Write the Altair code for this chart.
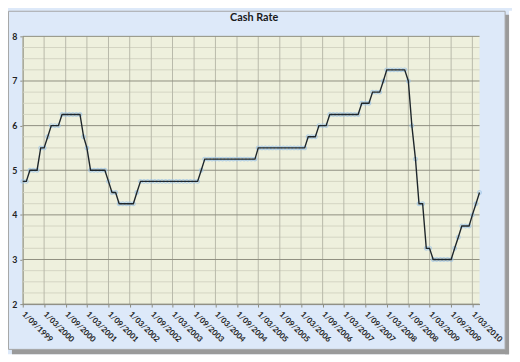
import altair as alt
import pandas as pd

# Monthly cash rate (%), Sep 1999 .. May 2010
rates = [
    4.75, 4.75, 5.00, 5.00,                                                      # 1999 Sep-Dec
    5.00, 5.50, 5.50, 5.75, 6.00, 6.00, 6.00, 6.25, 6.25, 6.25, 6.25, 6.25,      # 2000
    6.25, 5.75, 5.50, 5.00, 5.00, 5.00, 5.00, 5.00, 4.75, 4.50, 4.50, 4.25,      # 2001
    4.25, 4.25, 4.25, 4.25, 4.50, 4.75, 4.75, 4.75, 4.75, 4.75, 4.75, 4.75,      # 2002
    4.75, 4.75, 4.75, 4.75, 4.75, 4.75, 4.75, 4.75, 4.75, 4.75, 5.00, 5.25,      # 2003
    5.25, 5.25, 5.25, 5.25, 5.25, 5.25, 5.25, 5.25, 5.25, 5.25, 5.25, 5.25,      # 2004
    5.25, 5.25, 5.50, 5.50, 5.50, 5.50, 5.50, 5.50, 5.50, 5.50, 5.50, 5.50,      # 2005
    5.50, 5.50, 5.50, 5.50, 5.75, 5.75, 5.75, 6.00, 6.00, 6.00, 6.25, 6.25,      # 2006
    6.25, 6.25, 6.25, 6.25, 6.25, 6.25, 6.25, 6.50, 6.50, 6.50, 6.75, 6.75,      # 2007
    6.75, 7.00, 7.25, 7.25, 7.25, 7.25, 7.25, 7.25, 7.00, 6.00, 5.25, 4.25,      # 2008
    4.25, 3.25, 3.25, 3.00, 3.00, 3.00, 3.00, 3.00, 3.00, 3.25, 3.50, 3.75,      # 2009
    3.75, 3.75, 4.00, 4.25, 4.50,                                                # 2010 Jan-May
]
months = [d.strftime("%Y-%m-%d") for d in pd.date_range("1999-09-01", periods=len(rates), freq="MS")]

# Category axis ticks (every six months)
tick_dates = [
    "1999-09-01", "2000-03-01", "2000-09-01", "2001-03-01", "2001-09-01", "2002-03-01",
    "2002-09-01", "2003-03-01", "2003-09-01", "2004-03-01", "2004-09-01", "2005-03-01",
    "2005-09-01", "2006-03-01", "2006-09-01", "2007-03-01", "2007-09-01", "2008-03-01",
    "2008-09-01", "2009-03-01", "2009-09-01", "2010-03-01",
]
major_y = [2, 3, 4, 5, 6, 7, 8]
minor_y = [2.25, 2.5, 2.75, 3.25, 3.5, 3.75, 4.25, 4.5, 4.75, 5.25, 5.5, 5.75,
           6.25, 6.5, 6.75, 7.25, 7.5, 7.75]
title_text = "Cash Rate"

df = pd.DataFrame({"month": months, "rate": rates})
ticks_df = pd.DataFrame({"month": tick_dates})
major_df = pd.DataFrame({"y": major_y})
minor_df = pd.DataFrame({"y": minor_y})
one = pd.DataFrame({"a": [0]})

LEFT = 15            # chart-area padding left of the plot (page x = 8 + LEFT)
W, H = 464, 272
FONT = "Lato"

xscale = alt.Scale(type="utc", nice=False)
yscale = alt.Scale(domain=[2, 8], nice=False)

tick_values = [alt.DateTime(year=int(t[:4]), month=int(t[5:7]), date=1, utc=True) for t in tick_dates]

xaxis = alt.Axis(
    values=tick_values, labelExpr="utcFormat(datum.value, '1/%m/%Y')",
    labelAngle=45, labelAlign="left", labelBaseline="middle", labelPadding=6,
    labelFont=FONT, labelFontSize=8, labelColor="#222222", labelFontWeight="bold",
    grid=False, domain=True, domainColor="#8c8c80", ticks=True, tickColor="#8c8c80",
    tickSize=3, title=None, labelOverlap=False,
)
yaxis = alt.Axis(
    values=major_y, labelFont=FONT, labelFontSize=9, labelColor="#222222",
    labelFontWeight="bold", labelPadding=3, grid=False, domain=True,
    domainColor="#8c8c80", ticks=True, tickColor="#8c8c80", tickSize=3, title=None,
)

# decorative chart-area frame (right/bottom shadow and outline)
R = 513 - 8 - LEFT   # frame right edge in plot coordinates
B = 352 - 34         # frame bottom edge in plot coordinates
white_r = alt.Chart(one).mark_rect(color="white").encode(
    x=alt.value(R + 4), x2=alt.value(R + 20), y=alt.value(-26), y2=alt.value(B + 20))
white_b = alt.Chart(one).mark_rect(color="white").encode(
    x=alt.value(-LEFT), x2=alt.value(R + 20), y=alt.value(B + 5), y2=alt.value(B + 20))
shadow_r = alt.Chart(one).mark_rect(color="#9a9a9a").encode(
    x=alt.value(R), x2=alt.value(R + 4), y=alt.value(-22), y2=alt.value(B + 5))
shadow_b = alt.Chart(one).mark_rect(color="#9a9a9a").encode(
    x=alt.value(-LEFT + 4), x2=alt.value(R + 4), y=alt.value(B), y2=alt.value(B + 5))
outline = alt.Chart(one).mark_rect(fillOpacity=0, stroke="#a6a6a6", strokeWidth=1).encode(
    x=alt.value(-LEFT + 0.5), x2=alt.value(R), y=alt.value(-25.5), y2=alt.value(B))

title = alt.Chart(one).mark_text(
    text=title_text, font=FONT, fontSize=11, fontWeight="bold", color="#1a1a1a",
    align="center", baseline="middle").encode(
    x=alt.value(W / 2 + 3), y=alt.value(-19))

minor = alt.Chart(minor_df).mark_rule(color="#d3d4c2", strokeWidth=1).encode(
    y=alt.Y("y:Q", scale=yscale, axis=yaxis))
vert = alt.Chart(ticks_df).mark_rule(color="#b8b9aa", strokeWidth=1).encode(
    x=alt.X("month:T", scale=xscale, axis=xaxis))
major = alt.Chart(major_df).mark_rule(color="#8e8e80", strokeWidth=1).encode(
    y=alt.Y("y:Q", scale=yscale, axis=yaxis))

pts = alt.Chart(df).mark_point(shape="circle", size=14, color="#9cc4e8", strokeWidth=1.2,
                               filled=False).encode(
    x=alt.X("month:T", scale=xscale, axis=xaxis),
    y=alt.Y("rate:Q", scale=yscale, axis=yaxis))
line = alt.Chart(df).mark_line(color="#1e262b", strokeWidth=1.4).encode(
    x=alt.X("month:T", scale=xscale, axis=xaxis),
    y=alt.Y("rate:Q", scale=yscale, axis=yaxis))

chart = alt.layer(
    white_r, white_b, shadow_r, shadow_b, outline, title, minor, vert, major, pts, line
).properties(
    width=W, height=H,
    autosize=alt.AutoSizeParams(type="none"),
    padding={"left": LEFT, "top": 26, "right": 512 - LEFT - W, "bottom": 354 - 26 - H},
    background="#dde9f9",
).configure_view(fill="#eef0dd", stroke=None)

chart.save("out.html", embed_options={"renderer": "svg", "actions": False})
